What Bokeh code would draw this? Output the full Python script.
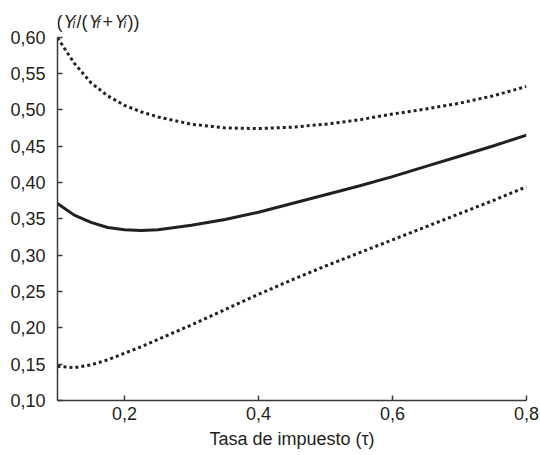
from bokeh.plotting import figure
from bokeh.models import Range1d, Label, FixedTicker, CustomJSTickFormatter
from bokeh.embed import file_html
from bokeh.resources import INLINE

# Data
tau = [0.1, 0.125, 0.15, 0.175, 0.2, 0.225, 0.25, 0.3, 0.35, 0.4, 0.45, 0.5, 0.55, 0.6, 0.65, 0.7, 0.75, 0.8]
upper = [0.599, 0.564, 0.537, 0.519, 0.506, 0.497, 0.490, 0.480, 0.475, 0.474, 0.476, 0.480, 0.486, 0.494, 0.501, 0.509, 0.519, 0.532]
middle = [0.371, 0.355, 0.345, 0.338, 0.335, 0.334, 0.335, 0.341, 0.349, 0.359, 0.371, 0.383, 0.395, 0.408, 0.422, 0.436, 0.450, 0.465]
lower = [0.147, 0.145, 0.149, 0.156, 0.165, 0.174, 0.184, 0.204, 0.225, 0.246, 0.266, 0.285, 0.303, 0.321, 0.339, 0.357, 0.375, 0.394]

x_ticks = [0.2, 0.4, 0.6, 0.8]
y_ticks = [0.10, 0.15, 0.20, 0.25, 0.30, 0.35, 0.40, 0.45, 0.50, 0.55, 0.60]
x_title = "Tasa de impuesto (τ)"

INK = "#231f20"
AX = "#3a3a3a"
FONT = "Liberation Sans"
NARROW = "'Liberation Sans Narrow', 'Arial Narrow', 'Liberation Sans'"

W, H = 540, 455
LEFT, RIGHT, BOTTOM = 57, 14, 55
X0, X1 = 0.1, 0.8
Y0, Y_AXIS_END = 0.1, 0.6
Y_AXIS_TOP_PX = 36.5          # pixel row of the 0,60 tick
fh = H - BOTTOM                # frame spans the full height above the x axis
fw = W - LEFT - RIGHT
Y1 = Y0 + (Y_AXIS_END - Y0) * fh / (fh - Y_AXIS_TOP_PX)

p = figure(width=W, height=H, output_backend="svg", toolbar_location=None,
           x_range=Range1d(X0, X1), y_range=Range1d(Y0, Y1),
           min_border_left=LEFT, min_border_right=RIGHT, min_border_top=0, min_border_bottom=BOTTOM)
p.outline_line_color = None
p.grid.visible = False
p.background_fill_color = "white"
p.border_fill_color = "white"

p.line(tau, upper, line_color=INK, line_width=3, line_dash="3 3")
p.line(tau, middle, line_color=INK, line_width=3)
p.line(tau, lower, line_color=INK, line_width=3, line_dash="3 3")

p.xaxis.ticker = FixedTicker(ticks=x_ticks)
p.yaxis.ticker = FixedTicker(ticks=y_ticks)
p.yaxis.bounds = (Y0, Y_AXIS_END)
p.xaxis.formatter = CustomJSTickFormatter(code="return tick.toFixed(1).replace('.', ',');")
p.yaxis.formatter = CustomJSTickFormatter(code="return tick.toFixed(2).replace('.', ',');")

for ax in (p.xaxis, p.yaxis):
    ax.axis_line_color = AX
    ax.axis_line_width = 1.5
    ax.major_tick_line_color = AX
    ax.major_tick_line_width = 1.5
    ax.major_tick_in = 5
    ax.major_tick_out = 0
    ax.minor_tick_line_color = None
    ax.major_label_text_font = FONT
    ax.major_label_text_font_size = "18px"
    ax.major_label_text_color = INK

p.yaxis.major_label_standoff = 12
p.xaxis.major_label_standoff = 6

p.xaxis.axis_label = x_title
p.xaxis.axis_label_text_font = FONT
p.xaxis.axis_label_text_font_size = "18px"
p.xaxis.axis_label_text_font_style = "normal"
p.xaxis.axis_label_text_color = INK
p.xaxis.axis_label_standoff = 6

# y-axis title: ( Yi/( Yf+ Yi))  built from pieces, placed in data units
def dx(px):
    return X0 + (px - LEFT) / fw * (X1 - X0)
def dy(py):
    return Y0 + (fh - py) / fh * (Y1 - Y0)

pieces = [
    ("(", 56, 0, "normal", "18px"),
    ("Y", 63, 0, "italic", "18px"),
    ("i", 72, 2, "italic", "12px"),
    ("/(", 76, 0, "normal", "18px"),
    ("Y", 88, 0, "italic", "18px"),
    ("f", 96, 2, "italic", "12px"),
    ("+", 102, 0, "normal", "18px"),
    ("Y", 114, 0, "italic", "18px"),
    ("i", 123, 2, "italic", "12px"),
    ("))", 127, 0, "normal", "18px"),
]
base_py = 21
for txt, xs, off, style, size in pieces:
    p.add_layout(Label(x=dx(xs), y=dy(base_py + off), text=txt,
                       text_font=NARROW, text_font_size=size, text_font_style=style,
                       text_color=INK, text_baseline="alphabetic", text_align="left"))

open("out.html", "w").write(file_html(p, INLINE))
